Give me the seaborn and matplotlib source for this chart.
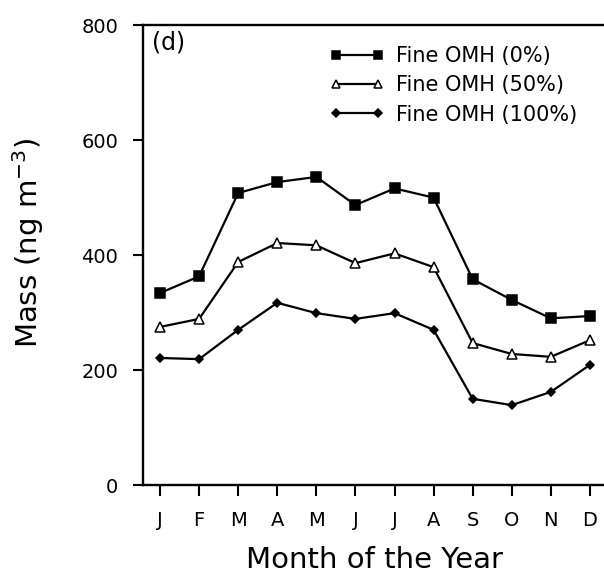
import matplotlib
matplotlib.use("Agg")
import matplotlib.pyplot as plt
import seaborn as sns
import pandas as pd

months = ["J", "F", "M", "A", "M", "J", "J", "A", "S", "O", "N", "D"]
month_num = list(range(1, 13))

omh_0 = [334, 363, 508, 527, 536, 487, 516, 500, 358, 322, 290, 294]
omh_50 = [275, 289, 388, 421, 417, 386, 403, 379, 247, 228, 223, 252]
omh_100 = [221, 219, 270, 317, 299, 289, 299, 270, 150, 139, 162, 209]

labels = ["Fine OMH (0%)", "Fine OMH (50%)", "Fine OMH (100%)"]

sns.set_style("ticks")
plt.rcParams["font.family"] = ["DejaVu Sans"]
plt.rcParams["text.color"] = "black"
plt.rcParams["axes.labelcolor"] = "black"
plt.rcParams["xtick.color"] = "black"
plt.rcParams["ytick.color"] = "black"

df = pd.DataFrame({
    "month": month_num * 3,
    "mass": omh_0 + omh_50 + omh_100,
    "series": [labels[0]] * 12 + [labels[1]] * 12 + [labels[2]] * 12,
})

fig = plt.figure(figsize=(6.04, 5.77), dpi=100)
# right spine sits just past the image edge, as in the scanned original
ax = fig.add_axes([0.2368, 0.1594, 0.768, 0.797])

styles = {
    labels[0]: dict(marker="s", markersize=6.5, markerfacecolor="black"),
    labels[1]: dict(marker="^", markersize=7, markerfacecolor="white"),
    labels[2]: dict(marker="D", markersize=4.5, markerfacecolor="black"),
}
for lab in labels:
    sub = df[df["series"] == lab]
    sns.lineplot(data=sub, x="month", y="mass", ax=ax, color="black",
                 linewidth=1.6, markeredgecolor="black", markeredgewidth=1.1,
                 label=lab, **styles[lab])

ax.set_xlim(0.565, 12.435)
ax.set_ylim(0, 800)
ax.set_xticks(month_num)
ax.set_xticklabels(months, fontsize=14)
ax.set_yticks([0, 200, 400, 600, 800])
ax.tick_params(axis="y", labelsize=14, direction="out", length=7, width=1.5, pad=11)
ax.tick_params(axis="x", direction="out", length=8, width=1.5, pad=11)
for s in ax.spines.values():
    s.set_linewidth(1.7)
    s.set_color("black")

ax.set_xlabel("Month of the Year", fontsize=21, labelpad=11)
ax.set_ylabel("Mass (ng m$^{-3}$)", fontsize=21)
ax.yaxis.set_label_coords(-0.209, 0.526)

ax.text(0.019, 0.989, "(d)", transform=ax.transAxes, fontsize=17,
        va="top", ha="left")

ax.legend(loc="upper left", bbox_to_anchor=(0.403, 0.955), frameon=False,
          fontsize=15, handlelength=2.6, handletextpad=0.55, numpoints=2,
          labelspacing=0.45, borderaxespad=0, borderpad=0, markerscale=0.85)

fig.savefig("out.png", dpi=100)
